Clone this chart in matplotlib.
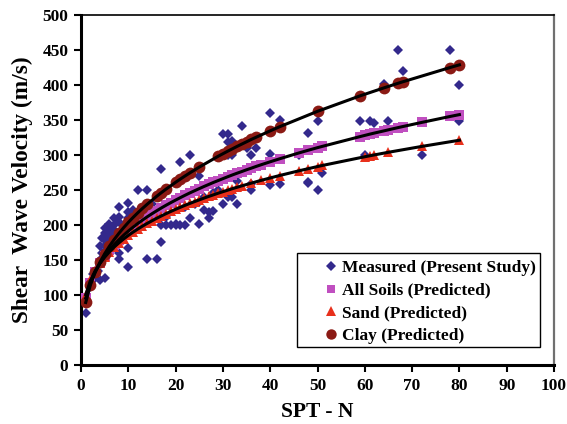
import matplotlib
matplotlib.use("Agg")
import matplotlib.pyplot as plt
from matplotlib.patches import Rectangle
from matplotlib.lines import Line2D

# ---------------------------------------------------------------------------
# Data
# ---------------------------------------------------------------------------

# Measured (present study): SPT-N and shear wave velocity (m/s)
meas_n = [1, 1, 2, 2, 2.5, 3, 3.5, 4, 4, 4, 4.5, 4.5, 5, 5, 5, 5, 5, 5.5, 5.5,
          6, 6, 6, 6, 6.5, 6.5, 7, 7, 7, 7, 7.5, 8, 8, 8, 8, 8, 8, 9, 9,
          10, 10, 10, 10, 10, 11, 11, 12, 12, 13, 14, 14, 15, 16, 17, 17, 17,
          18, 18, 19, 20, 20, 21, 21, 22, 22, 23, 23, 24, 25, 25, 25, 26, 26,
          27, 27, 28, 28, 29, 29, 30, 30, 30, 31, 31, 31, 31, 32, 32, 32, 33,
          33, 34, 35, 36, 36, 36, 37, 40, 40, 40, 42, 42, 46, 48, 48, 48, 50,
          50, 51, 59, 60, 61, 62, 64, 65, 67, 68, 72, 78, 80, 80]
meas_v = [74, 92, 112, 114, 130, 124, 135, 121, 150, 170, 160, 182, 125, 180,
          188, 170, 196, 186, 175, 174, 190, 202, 182, 195, 185, 200, 193, 210,
          185, 178, 226, 212, 174, 160, 151, 205, 190, 200, 231, 219, 167, 140,
          210, 221, 200, 250, 215, 205, 250, 151, 230, 151, 280, 176, 200, 200,
          211, 200, 200, 202, 290, 200, 200, 225, 300, 210, 230, 202, 233, 270,
          221, 240, 210, 219, 220, 245, 262, 250, 330, 230, 265, 330, 319, 300,
          240, 300, 320, 240, 230, 263, 341, 310, 300, 250, 259, 310, 360, 301,
          257, 350, 259, 300, 332, 261, 260, 349, 250, 274, 349, 300, 349, 346,
          402, 349, 450, 420, 300, 450, 400, 349]

# All soils (predicted)
all_n = [1, 2, 3, 4, 5, 6, 7, 8, 9, 10, 11, 12, 13, 14, 15, 16, 17, 18, 19, 20,
         21, 22, 23, 24, 25, 26, 27, 28, 29, 30, 31, 32, 33, 34, 35, 36, 37, 38,
         40, 42, 46, 48, 50, 51, 59, 60, 61, 62, 64, 65, 67, 68, 72, 78, 80]
all_v = [95.6, 117.8, 133.1, 145.2, 155.2, 164.0, 171.8, 178.8, 185.3, 191.3,
         196.8, 202.1, 207.0, 211.7, 216.1, 220.3, 224.4, 228.3, 232.0, 235.6,
         239.1, 242.5, 245.8, 248.9, 252.0, 255.0, 257.9, 260.8, 263.5, 266.2,
         268.9, 271.5, 274.0, 276.4, 278.9, 281.2, 283.6, 285.9, 290.3, 294.6,
         302.8, 306.7, 310.5, 312.3, 326.3, 328.0, 329.7, 331.3, 334.4, 336.0,
         339.1, 340.6, 346.5, 355.0, 357.7]

# Sand (predicted)
sand_n = [1, 2, 3, 4, 5, 6, 7, 8, 9, 10, 11, 12, 13, 14, 15, 16, 17, 18, 19, 20,
          21, 22, 23, 24, 25, 26, 27, 28, 29, 30, 31, 32, 33, 34, 36, 38, 40, 42,
          46, 48, 50, 51, 60, 61, 62, 65, 72, 80]
sand_v = [100.5, 120.8, 134.5, 145.2, 154.0, 161.6, 168.4, 174.4, 180.0, 185.1,
          189.8, 194.2, 198.4, 202.3, 206.0, 209.6, 213.0, 216.3, 219.4, 222.4,
          225.3, 228.1, 230.8, 233.4, 235.9, 238.4, 240.8, 243.1, 245.4, 247.6,
          249.7, 251.9, 253.9, 255.9, 259.8, 263.6, 267.2, 270.7, 277.3, 280.4,
          283.5, 285.0, 297.5, 298.8, 300.1, 303.9, 312.2, 321.1]

# Clay (predicted)
clay_n = [1, 2, 3, 4, 5, 6, 7, 8, 9, 10, 11, 12, 13, 14, 16, 17, 18, 20, 21, 22,
          23, 25, 29, 30, 31, 32, 33, 34, 35, 36, 37, 40, 42, 50, 59, 64, 67, 68,
          78, 80]
clay_v = [89.3, 114.5, 132.3, 146.7, 158.9, 169.6, 179.2, 188.0, 196.1, 203.7,
          210.7, 217.4, 223.7, 229.7, 241.0, 246.3, 251.4, 261.0, 265.6, 270.1,
          274.4, 282.7, 298.2, 301.8, 305.4, 308.8, 312.3, 315.6, 318.9, 322.2,
          325.3, 334.5, 340.4, 362.4, 384.5, 395.8, 402.4, 404.5, 424.9, 428.8]

x_ticks = list(range(0, 101, 10))
y_ticks = list(range(0, 501, 50))

# ---------------------------------------------------------------------------
# Plotting
# ---------------------------------------------------------------------------

plt.rcParams.update({
    "font.family": "Liberation Serif",
    "font.weight": "bold",
    "axes.labelweight": "bold",
})

MEAS_C = "#33298c"
ALL_C = "#c04fc0"
SAND_C = "#e8301c"
CLAY_C = "#8b1a14"

fig = plt.figure(figsize=(5.67, 4.24), dpi=100)
ax = fig.add_axes([81 / 567, 1 - 365 / 424, 473 / 567, 350 / 424])

ax.plot(meas_n, meas_v, "D", color=MEAS_C, ms=5.5, mew=0, zorder=2)
ax.plot(all_n, all_v, "s", color=ALL_C, ms=6.5, mew=0, zorder=3)
ax.plot(sand_n, sand_v, "^", color=SAND_C, ms=7.5, mew=0, zorder=3)
ax.plot(clay_n, clay_v, "o", color=CLAY_C, ms=8.5, mew=0, zorder=3)

# trend lines through the predicted values
for xs, ys in [(all_n, all_v), (sand_n, sand_v), (clay_n, clay_v)]:
    ax.plot(xs, ys, "-", color="black", lw=2.2, zorder=4)

ax.set_xlim(0, 100)
ax.set_ylim(0, 500)
ax.set_xticks(x_ticks)
ax.set_yticks(y_ticks)
ax.tick_params(direction="out", length=5, width=1.5, labelsize=12.5, pad=4)
for lab in ax.get_xticklabels() + ax.get_yticklabels():
    lab.set_fontweight("bold")

ax.spines["left"].set_linewidth(2.2)
ax.spines["bottom"].set_linewidth(2.2)
ax.spines["top"].set_linewidth(1.2)
ax.spines["right"].set_linewidth(1.6)
ax.spines["right"].set_color("#707070")

ax.set_xlabel("SPT - N", fontsize=15.5, labelpad=6)
ax.set_ylabel("Shear  Wave Velocity (m/s)", fontsize=16.8, labelpad=7)

# legend frame drawn separately so the entries can sit inset
ax.add_patch(Rectangle((0.457, 0.051), 0.513, 0.269, transform=ax.transAxes,
                       facecolor="white", edgecolor="black", lw=1.0, zorder=5))
handles = [
    Line2D([], [], ls="", marker="D", color=MEAS_C, ms=5, mew=0),
    Line2D([], [], ls="", marker="s", color=ALL_C, ms=6, mew=0),
    Line2D([], [], ls="", marker="^", color=SAND_C, ms=7, mew=0),
    Line2D([], [], ls="", marker="o", color=CLAY_C, ms=7.5, mew=0),
]
labels = ["Measured (Present Study)", "All Soils (Predicted)",
          "Sand (Predicted)", "Clay (Predicted)"]
leg = ax.legend(handles, labels, loc="upper left",
                bbox_to_anchor=(0.48, 0.34), frameon=False, numpoints=1,
                handlelength=1.0, handletextpad=0.15, labelspacing=0.38,
                borderpad=0.3, prop={"family": "Liberation Serif",
                                     "weight": "bold", "size": 12.5})
leg.set_zorder(6)

fig.savefig("out.png", dpi=100)
